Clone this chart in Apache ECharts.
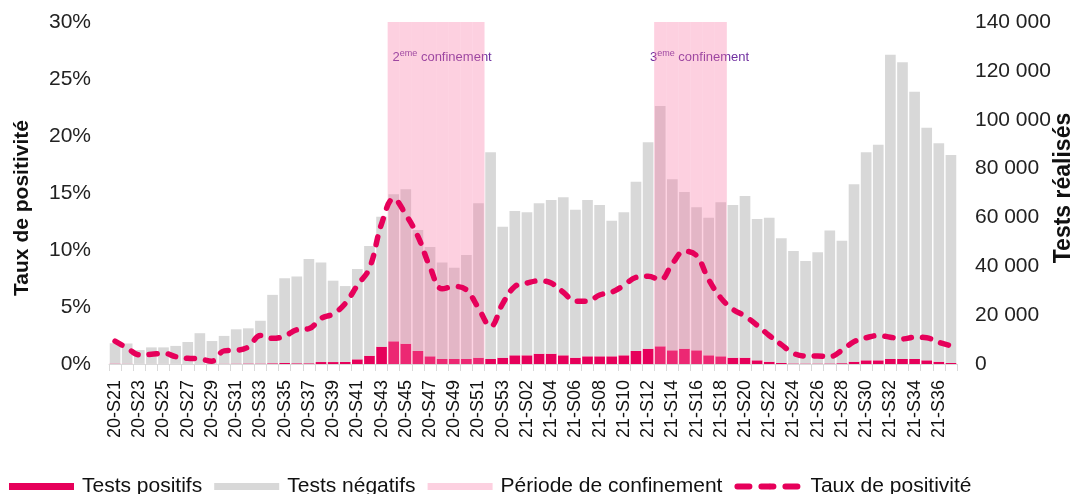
<!DOCTYPE html>
<html>
<head>
    <meta charset="UTF-8">
    <title>Tests et taux de positivité</title>
    <script src="https://cdn.jsdelivr.net/npm/echarts@6/dist/echarts.min.js"></script>
    <style>
        html, body { margin: 0; padding: 0; background: #fff; }
        #main { width: 1073px; height: 494px; }
    </style>
</head>
<body>
    <div id="main"></div>
    <script type="text/javascript">
        // semaines
        var weeks = [
            '20-S21', '20-S22', '20-S23', '20-S24', '20-S25', '20-S26', '20-S27', '20-S28', '20-S29', '20-S30',
            '20-S31', '20-S32', '20-S33', '20-S34', '20-S35', '20-S36', '20-S37', '20-S38', '20-S39', '20-S40',
            '20-S41', '20-S42', '20-S43', '20-S44', '20-S45', '20-S46', '20-S47', '20-S48', '20-S49', '20-S50',
            '20-S51', '20-S52', '20-S53', '21-S01', '21-S02', '21-S03', '21-S04', '21-S05', '21-S06', '21-S07',
            '21-S08', '21-S09', '21-S10', '21-S11', '21-S12', '21-S13', '21-S14', '21-S15', '21-S16', '21-S17',
            '21-S18', '21-S19', '21-S20', '21-S21', '21-S22', '21-S23', '21-S24', '21-S25', '21-S26', '21-S27',
            '21-S28', '21-S29', '21-S30', '21-S31', '21-S32', '21-S33', '21-S34', '21-S35', '21-S36', '21-S37'
        ];
        // tests positifs
        var positifs = [
            170, 120, 50, 60, 65, 50, 45, 55, 25, 130,
            170, 220, 200, 300, 400, 300, 300, 800, 800, 850,
            1900, 3400, 7100, 9280, 8310, 5320, 3140, 2050, 2050, 2050,
            2590, 2050, 2590, 3550, 3550, 4230, 4230, 3550, 2590, 3140,
            3140, 3140, 3550, 5320, 6270, 7230, 5590, 6270, 5590, 3550,
            3140, 2590, 2590, 1500, 950, 400, 250, 200, 200, 250,
            350, 950, 1500, 1500, 2050, 2050, 2050, 1500, 950, 400
        ];
        // tests négatifs
        var negatifs = [
            8330, 8280, 5650, 6740, 6735, 7350, 8955, 12545, 9375, 11370,
            14030, 14380, 17500, 28000, 34700, 35500, 42700, 40700, 33300, 31050,
            37000, 44900, 53200, 60220, 63190, 49580, 44760, 39450, 37350, 42550,
            63210, 84650, 53610, 59050, 58550, 61570, 62870, 64750, 60510, 63960,
            61960, 55460, 58550, 69280, 84530, 98370, 70010, 64130, 58610, 56350,
            63060, 62510, 66210, 57900, 58950, 51100, 46050, 42000, 45500, 54350,
            50150, 72650, 85200, 88300, 124550, 121450, 109350, 95200, 89450, 85200
        ];
        // taux de positivité (%)
        var taux = [
            2.0, 1.4, 0.8, 0.85, 0.95, 0.65, 0.5, 0.45, 0.25, 1.15,
            1.2, 1.5, 2.5, 2.25, 2.45, 3.0, 3.1, 4.0, 4.4, 5.3,
            6.9, 8.4, 12.3, 14.5, 13.1, 11.2, 8.5, 6.6, 6.8, 6.5,
            4.9, 3.3, 5.3, 6.8, 7.1, 7.3, 7.1, 6.3, 5.5, 5.5,
            6.05, 6.3, 6.9, 7.6, 7.7, 7.4, 8.8, 9.9, 9.5, 7.4,
            5.8, 4.8, 4.2, 3.4, 2.5, 1.7, 0.94, 0.7, 0.7, 0.65,
            1.2, 1.96, 2.3, 2.5, 2.35, 2.2, 2.35, 2.3, 1.9, 1.6
        ];
        // périodes de confinement
        var confDebut = ['20-S44', '21-S13'];
        var confFin = ['20-S51', '21-S18'];
        var confRang = ['2', '3'];

        var pctMax = 30;
        var testsMax = 140000;

        var rose = '#e6005a';
        var gris = '#d8d8d8';
        var ombre = 'rgba(249,118,164,0.34)';
        var police = 'Liberation Sans';

        // barres de fond pour les confinements
        var confData = weeks.map(function (w, i) {
            for (var k = 0; k < confDebut.length; k++) {
                if (i >= weeks.indexOf(confDebut[k]) && i <= weeks.indexOf(confFin[k])) return pctMax;
            }
            return null;
        });
        var confAreas = confDebut.map(function (d, k) {
            return [
                { xAxis: d, label: { formatter: '{n|' + confRang[k] + '}{e|eme}{n| confinement}' } },
                { xAxis: confFin[k] }
            ];
        });

        function milliers(v) {
            return String(v).replace(/\B(?=(\d{3})+(?!\d))/g, ' ');
        }

        var myChart = echarts.init(document.getElementById('main'));

        var option = {
            animation: false,
            textStyle: { fontFamily: police },
            grid: {
                left: 109,
                right: 116,
                top: 22,
                bottom: 130,
                containLabel: false,
                outerBoundsMode: 'none'
            },
            legend: {
                left: 4,
                top: 471,
                itemWidth: 65,
                itemHeight: 7,
                itemGap: 12,
                textStyle: { fontSize: 21, color: '#111', fontFamily: police, padding: [0, 0, 0, 3] },
                lineStyle: { width: 6, type: [12, 12], cap: 'round', color: rose },
                data: [
                    { name: 'Tests positifs', icon: 'rect' },
                    { name: 'Tests négatifs', icon: 'rect' },
                    { name: 'Période de confinement', icon: 'rect' },
                    { name: 'Taux de positivité' }
                ]
            },
            xAxis: [
                {
                    type: 'category',
                    data: weeks,
                    axisLine: { lineStyle: { color: '#d9d9d9' } },
                    axisTick: { show: true, interval: 0, length: 7, lineStyle: { color: '#d9d9d9' } },
                    axisLabel: {
                        interval: 1,
                        rotate: 90,
                        margin: 16,
                        fontSize: 18,
                        color: '#111',
                        fontFamily: police
                    }
                },
                {
                    type: 'category',
                    data: weeks,
                    show: false
                }
            ],
            yAxis: [
                {
                    type: 'value',
                    min: 0,
                    max: pctMax,
                    interval: 5,
                    name: 'Taux de positivité',
                    nameLocation: 'middle',
                    nameRotate: 90,
                    nameGap: 76,
                    nameMoveOverlap: false,
                    nameTextStyle: { fontSize: 21, fontWeight: 'bold', color: '#111', fontFamily: police, padding: [0, 30, 0, 0] },
                    axisLine: { show: false },
                    axisTick: { show: false },
                    splitLine: { show: false },
                    axisLabel: { formatter: '{value}%', fontSize: 21, color: '#222', margin: 18, fontFamily: police }
                },
                {
                    type: 'value',
                    min: 0,
                    max: testsMax,
                    interval: 20000,
                    position: 'right',
                    name: 'Tests réalisés',
                    nameLocation: 'middle',
                    nameRotate: 90,
                    nameGap: 95,
                    nameMoveOverlap: false,
                    nameTextStyle: { fontSize: 23, fontWeight: 'bold', color: '#111', fontFamily: police, padding: [0, 0, 0, 10] },
                    axisLine: { show: false },
                    axisTick: { show: false },
                    splitLine: { show: false },
                    axisLabel: { formatter: milliers, fontSize: 21, color: '#222', margin: 18, fontFamily: police }
                }
            ],
            series: [
                {
                    name: 'Tests positifs',
                    type: 'bar',
                    stack: 'tests',
                    yAxisIndex: 1,
                    barCategoryGap: '12%',
                    itemStyle: { color: rose },
                    data: positifs
                },
                {
                    name: 'Tests négatifs',
                    type: 'bar',
                    stack: 'tests',
                    yAxisIndex: 1,
                    barCategoryGap: '12%',
                    itemStyle: { color: gris },
                    data: negatifs
                },
                {
                    name: 'Période de confinement',
                    type: 'bar',
                    xAxisIndex: 1,
                    yAxisIndex: 0,
                    barWidth: '100%',
                    itemStyle: { color: ombre },
                    data: confData,
                    markArea: {
                        silent: true,
                        itemStyle: { color: 'transparent' },
                        label: {
                            show: true,
                            position: 'insideTop',
                            distance: 27,
                            color: '#7030a0',
                            rich: {
                                n: { fontSize: 13, color: '#7030a0', fontFamily: police, lineHeight: 16 },
                                e: { fontSize: 9, color: '#7030a0', fontFamily: police, verticalAlign: 'top', lineHeight: 9 }
                            }
                        },
                        data: confAreas
                    }
                },
                {
                    name: 'Taux de positivité',
                    type: 'line',
                    yAxisIndex: 0,
                    smooth: 0.4,
                    symbol: 'none',
                    showSymbol: false,
                    lineStyle: { color: rose, width: 5.5, type: [8, 11], cap: 'round' },
                    itemStyle: { color: rose },
                    data: taux
                }
            ]
        };

        myChart.setOption(option);
    </script>
</body>
</html>
